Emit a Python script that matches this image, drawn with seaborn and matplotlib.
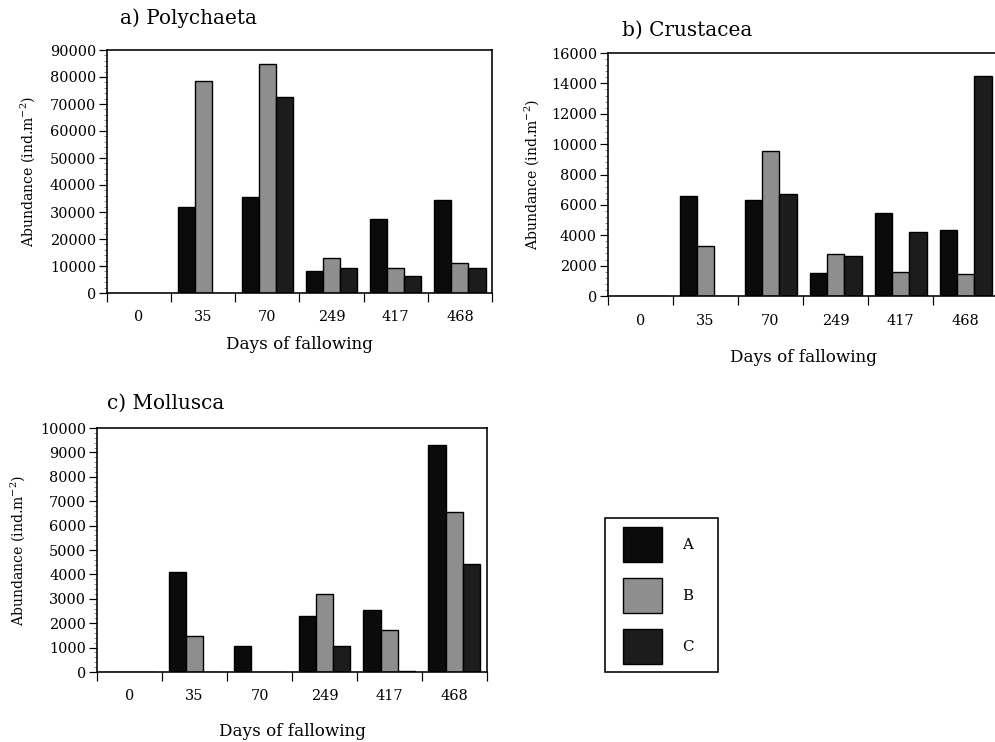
import matplotlib
matplotlib.use("Agg")
import matplotlib.pyplot as plt
from matplotlib.patches import Rectangle
from matplotlib.ticker import AutoMinorLocator, FixedLocator, NullFormatter
import numpy as np
import pandas as pd
import seaborn as sns

# Fallowing times (days) and sites
days = ["0", "35", "70", "249", "417", "468"]
sites = ["A", "B", "C"]

# Abundance (ind. m^-2) per site, one value per fallowing time
poly_A = [0, 32000, 35500, 8000, 27500, 34300]
poly_B = [0, 78700, 85000, 12900, 9200, 11100]
poly_C = [0, 0, 72500, 9200, 6200, 9200]

crus_A = [0, 6600, 6300, 1540, 5450, 4350]
crus_B = [0, 3300, 9560, 2750, 1600, 1430]
crus_C = [0, 0, 6700, 2640, 4200, 14500]

moll_A = [0, 4080, 1080, 2300, 2550, 9290]
moll_B = [0, 1490, 0, 3210, 1730, 6560]
moll_C = [0, 0, 0, 1050, 50, 4430]

colors = {"A": "#0b0b0b", "B": "#8e8e8e", "C": "#1c1c1c"}


def long_table(a, b, c):
    rows = []
    for site, vals in zip(sites, (a, b, c)):
        for d, v in zip(days, vals):
            rows.append({"day": d, "site": site, "abundance": v})
    return pd.DataFrame(rows)


sns.set_theme(style="white")
plt.rcParams["font.family"] = ["DejaVu Serif"]
plt.rcParams["mathtext.fontset"] = "dejavuserif"
plt.rcParams["text.color"] = "black"
plt.rcParams["axes.labelcolor"] = "black"
plt.rcParams["xtick.color"] = "black"
plt.rcParams["ytick.color"] = "black"

W, H = 995, 742
DPI = 72
fig = plt.figure(figsize=(W / DPI, H / DPI), dpi=DPI, facecolor="white")

panels = [
    ("a) Polychaeta", long_table(poly_A, poly_B, poly_C), 90000, 10000,
     [107 / W, 1 - 293 / H, 385 / W, 243 / H], (120, 18), 28, 318, 345),
    ("b) Crustacea", long_table(crus_A, crus_B, crus_C), 16000, 2000,
     [608 / W, 1 - 296 / H, 390 / W, 243 / H], (622, 30), 532, 322, 357),
    ("c) Mollusca", long_table(moll_A, moll_B, moll_C), 10000, 1000,
     [97 / W, 1 - 672 / H, 390 / W, 244 / H], (107, 403), 18, 697, 732),
]

axes = []
for title, df, ymax, ystep, rect, tpos, ylx, tly, xly in panels:
    ax = fig.add_axes(rect)
    sns.barplot(data=df, x="day", y="abundance", hue="site", order=days,
                hue_order=sites, palette=colors, edgecolor="black",
                linewidth=1.4, width=0.8, saturation=1, ax=ax,
                legend=(title.startswith("c")))
    ax.set_xlim(-0.5, len(days) - 0.5)
    ax.set_ylim(0, ymax)
    ax.set_yticks(np.arange(0, ymax + 1, ystep))
    ax.yaxis.set_minor_locator(AutoMinorLocator(5))
    ax.tick_params(axis="y", which="major", direction="out", length=8,
                   width=1.2, color="black", labelsize=14.5, pad=3,
                   left=True)
    ax.tick_params(axis="y", which="minor", direction="out", length=3,
                   width=0.8, color="#777777", left=True)
    # category boundaries carry the ticks, centres carry the labels
    ax.xaxis.set_major_locator(FixedLocator(np.arange(-0.5, len(days), 1.0)))
    ax.xaxis.set_major_formatter(NullFormatter())
    ax.xaxis.set_minor_locator(FixedLocator(np.arange(len(days))))
    ax.set_xticklabels(days, minor=True)
    ax.tick_params(axis="x", which="major", direction="out", length=9,
                   width=1.2, color="black", bottom=True)
    ax.tick_params(axis="x", which="minor", length=0, labelsize=14.5,
                   pad=(tly - (H - rect[1] * H)) - 8)
    for side in ("left", "top", "right", "bottom"):
        ax.spines[side].set_visible(True)
        ax.spines[side].set_color("black")
        ax.spines[side].set_linewidth(1.6)
    ax.set_xlabel("")
    ax.set_ylabel("")
    fig.text(tpos[0] / W, 1 - tpos[1] / H, title, fontsize=20,
             ha="left", va="center")
    cx = rect[0] + rect[2] / 2
    fig.text(cx, 1 - xly / H, "Days of fallowing", fontsize=16.8,
             ha="center", va="center")
    fig.text(ylx / W, rect[1] + rect[3] / 2,
             r"Abundance (ind.m$^{\mathregular{-2}}$)", fontsize=14,
             rotation=90, ha="center", va="center")
    axes.append(ax)

# Site key, placed in the empty lower-right quadrant
ax_c = axes[2]
handles, labels = ax_c.get_legend_handles_labels()
ax_c.get_legend().remove()
leg = fig.legend(handles, labels, loc="upper left",
                 bbox_to_anchor=(623 / W, 1 - 527 / H),
                 bbox_transform=fig.transFigure, fontsize=15,
                 handlelength=2.6, handleheight=3.2, labelspacing=1.07,
                 handletextpad=1.35, borderpad=0, borderaxespad=0,
                 frameon=False)
fig.patches.append(Rectangle((605 / W, 1 - 672 / H), 113 / W, 154 / H,
                             transform=fig.transFigure, fill=False,
                             edgecolor="black", linewidth=1.6))

fig.savefig("out.png", dpi=DPI, facecolor="white")
